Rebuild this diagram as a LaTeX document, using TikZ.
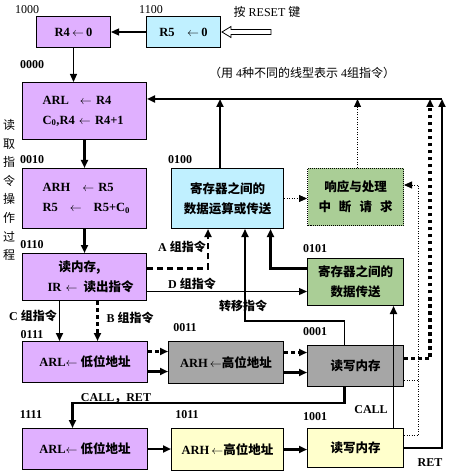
\documentclass[tikz,border=0pt]{standalone}
\usepackage{fontspec}
\setmainfont{Liberation Serif}
\newfontfamily\cjk{Noto Sans CJK SC}
\usetikzlibrary{arrows.meta, positioning}
\definecolor{lila}{RGB}{224,176,255}
\definecolor{himmel}{RGB}{192,240,255}
\definecolor{gruen}{RGB}{170,206,150}
\definecolor{grau}{RGB}{166,166,166}
\definecolor{gelb}{RGB}{255,255,204}
\newcommand{\zh}[1]{{\cjk #1}}
\newcommand{\la}{\ensuremath{\leftarrow}}

\tikzset{
	box/.style={draw, line width=1bp, anchor=north west, inner sep=0pt, align=center,
		font=\fontsize{12.5bp}{20bp}\selectfont\bfseries},
	regbox/.style={box, fill=lila, align=left, text width=124bp, inner xsep=0pt},
	bits/.style={inner sep=0pt, font=\fontsize{12bp}{14bp}\selectfont\bfseries},
	grp/.style={inner sep=0pt, font=\fontsize{12bp}{14bp}\selectfont\bfseries},
	thinline/.style={line width=1.2bp},
	midline/.style={line width=1.8bp},
	thickline/.style={line width=2.5bp},
	dashline/.style={line width=2.5bp, dash pattern=on 6bp off 4bp},
	dotline/.style={line width=3.5bp, dash pattern=on 3.5bp off 3.5bp},
	fineline/.style={line width=0.8bp, dash pattern=on 1bp off 1.5bp},
}

\begin{document}
\begin{tikzpicture}[x=1bp, y=-1bp, >={Triangle[length=8bp,width=7bp]}]
	\fill[white] (0,0) rectangle (452,475);
	\useasboundingbox (0,0) rectangle (452,475);
	
	%----------------------------------------------------------------
	\node(r4) [box, fill=lila, minimum width=74bp, minimum height=31bp] at (36,16) {R4\,\la\,0};
	\node(r5) [box, fill=himmel, minimum width=74bp, minimum height=31bp] at (146,16) {R5\quad\la\,0};
	\draw[line width=0.8bp, fill=white] ([xshift=1bp]r5.east) -- ++(9,-5.5) -- ++(0,3) -- ++(40,0)
		-- ++(0,5) -- ++(-40,0) -- ++(0,3) -- cycle;
	\node(press) [font=\fontsize{12bp}{14bp}\selectfont, inner sep=0pt] at (267,12) {\zh{按} RESET \zh{键}};
	
	\node(side) [font=\fontsize{12bp}{18.6bp}\selectfont\cjk, align=center, inner sep=0pt] at (9,190)
		{读\\取\\指\\令\\操\\作\\过\\程};
	\node(note) [font=\fontsize{12bp}{14bp}\selectfont, inner sep=0pt] at (302,73)
		{\zh{（用} 4\zh{种不同的线型表示} 4\zh{组指令）}};
	
	%----------------------------------------------------------------
	\node(arl0) [regbox, minimum height=57bp] at (22,82)
		{\hspace*{20bp}ARL\hspace{11bp}\la\ R4\\\hspace*{20bp}C\textsubscript{0},R4 \la\ R4+1};
	\node(arh2) [regbox, minimum height=60bp] at (22,168)
		{\hspace*{20bp}ARH\hspace{12bp}\la\ R5\\\hspace*{20bp}R5\hspace{12bp}\la\hspace{12bp}R5+C\textsubscript{0}};
	\node(rdm) [regbox, minimum height=47bp] at (22,253)
		{\hspace*{36bp}\zh{读内存,}\\\hspace*{25bp}IR \la\hspace{6bp}\zh{读出指令}};
	
	\node(calc) [box, fill=himmel, minimum width=112bp, minimum height=60bp] at (171,168)
		{\zh{寄存器之间的}\\\zh{数据运算或传送}};
	\node(intr) [box, fill=gruen, densely dotted, minimum width=96bp, minimum height=57bp] at (307,168)
		{\zh{响应与处理}\\\zh{中\hspace{8bp}断\hspace{8bp}请\hspace{8bp}求}};
	\node(xfer) [box, fill=gruen, minimum width=96bp, minimum height=47bp] at (307,258)
		{\zh{寄存器之间的}\\\zh{数据传送}};
	
	\node(arl7) [box, fill=lila, minimum width=125bp, minimum height=41bp] at (22,341) {ARL\la\ \zh{低位地址}};
	\node(arh3) [box, fill=grau, minimum width=115bp, minimum height=42bp] at (168,341) {ARH\,\la\zh{高位地址}};
	\node(rw1) [box, fill=grau, minimum width=96bp, minimum height=41bp] at (307,345) {\zh{读写内存}};
	
	\node(arl15) [box, fill=lila, minimum width=125bp, minimum height=41bp] at (22,428) {ARL\la\ \zh{低位地址}};
	\node(arh11) [box, fill=gelb, minimum width=112bp, minimum height=42bp] at (171,428) {ARH\,\la\zh{高位地址}};
	\node(rw9) [box, fill=gelb, minimum width=96bp, minimum height=39bp] at (307,428) {\zh{读写内存}};
	
	%----------------------------------------------------------------
	\node(b1000) [bits, font=\fontsize{12bp}{14bp}\selectfont] at (27,10) {1000};
	\node(b1100) [bits, font=\fontsize{12bp}{14bp}\selectfont] at (151,10) {1100};
	\node(b0000) [bits] at (32,65) {0000};
	\node(b0010) [bits] at (32,160) {0010};
	\node(b0100) [bits] at (180,160) {0100};
	\node(b0110) [bits] at (32,245) {0110};
	\node(b0101) [bits] at (315,249) {0101};
	\node(b0111) [bits] at (32,335) {0111};
	\node(b0011) [bits] at (185,328) {0011};
	\node(b0001) [bits] at (315,332) {0001};
	\node(b1111) [bits] at (31,415) {1111};
	\node(b1011) [bits] at (187,415) {1011};
	\node(b1001) [bits] at (315,417) {1001};
	
	\node(ga) [grp] at (182,247) {A \zh{组指令}};
	\node(gd) [grp] at (192,284) {D \zh{组指令}};
	\node(gc) [grp] at (33,316) {C \zh{组指令}};
	\node(gb) [grp] at (130,318) {B \zh{组指令}};
	\node(jump) [grp] at (243,306) {\zh{转移指令}};
	\node(callret) [grp] at (116,398) {CALL\zh{，}RET};
	\node(call) [grp] at (371,410) {CALL};
	\node(ret) [grp] at (430,463) {RET};
	
	%----------------------------------------------------------------
	\coordinate (bus) at (442,99);
	\coordinate (dotbus) at (430,99);
	\coordinate (intrin) at (418,185);
	
	\draw[thinline, ->] (r5) -- (r4);
	\draw[thinline, ->] (r4.south) -- (r4.south |- arl0.north);
	\draw[thickline, ->] (arl0) -- (arh2);
	\draw[thickline, ->] (arh2) -- (rdm);
	
	\draw[thickline, ->] (bus) -- (arl0.east |- bus);
	\draw[thickline, ->] ([xshift=-7.5bp]calc.north) -- ([xshift=-7.5bp]calc.north |- bus);
	\draw[fineline, ->] ([xshift=2bp]intr.north) -- ([xshift=2bp]intr.north |- bus);
	\draw[dotline, ->] ([yshift=7.5bp]rw1.east) -| (dotbus);
	\draw[thickline, ->] (rw9.east) -| (bus);
	
	\draw[fineline, ->] (calc.east) -- (calc.east -| intr.west);
	\draw[fineline] ([yshift=-14.5bp]rw1.east) -- ([yshift=-14.5bp]rw1.east -| intrin);
	\draw[fineline, ->] ([yshift=12.5bp]rw9.east) -| (intrin) -- (intrin -| intr.east);
	
	\draw[dashline, ->] ([yshift=8.5bp]rdm.east) -| ([xshift=-19.5bp]calc.south);
	\draw[thinline, ->] ([yshift=-14.5bp]rdm.east) -- ([yshift=-14.5bp]rdm.east -| xfer.west);
	\draw[midline, ->] ([xshift=-11bp]rw1.north) -- ++(0,-24) -| ([xshift=17.5bp]calc.south);
	\draw[thickline, ->] ([yshift=13.5bp]xfer.west) -| ([xshift=43bp]calc.south);
	\draw[midline, ->] ([xshift=38bp]rw9.north) -- ([xshift=38bp]rw9.north |- xfer.south);
	
	\draw[midline, ->] ([xshift=-25bp]rdm.south) -- ([xshift=-25bp]rdm.south |- arl7.north);
	\draw[dotline, ->] ([xshift=13bp]rdm.south) -- ([xshift=13bp]rdm.south |- arl7.north);
	
	\draw[dotline, ->] ([yshift=10.5bp]arl7.east) -- ([yshift=10.5bp]arl7.east -| arh3.west);
	\draw[thickline, ->] ([yshift=-9.5bp]arl7.east) -- ([yshift=-9.5bp]arl7.east -| arh3.west);
	\draw[dotline, ->] ([yshift=10bp]arh3.east) -- ([yshift=10bp]arh3.east -| rw1.west);
	\draw[thickline, ->] ([yshift=-10bp]arh3.east) -- ([yshift=-10bp]arh3.east -| rw1.west);
	
	\draw[thickline, ->] ([xshift=-11bp]rw1.south) -- ++(0,16) -| ([xshift=-12.5bp]arl15.north);
	\draw[thickline, ->] (arl15.east) -- (arl15.east -| arh11.west);
	\draw[thickline, ->] (arh11.east) -- (arh11.east -| rw9.west);
	
\end{tikzpicture}
\end{document}
